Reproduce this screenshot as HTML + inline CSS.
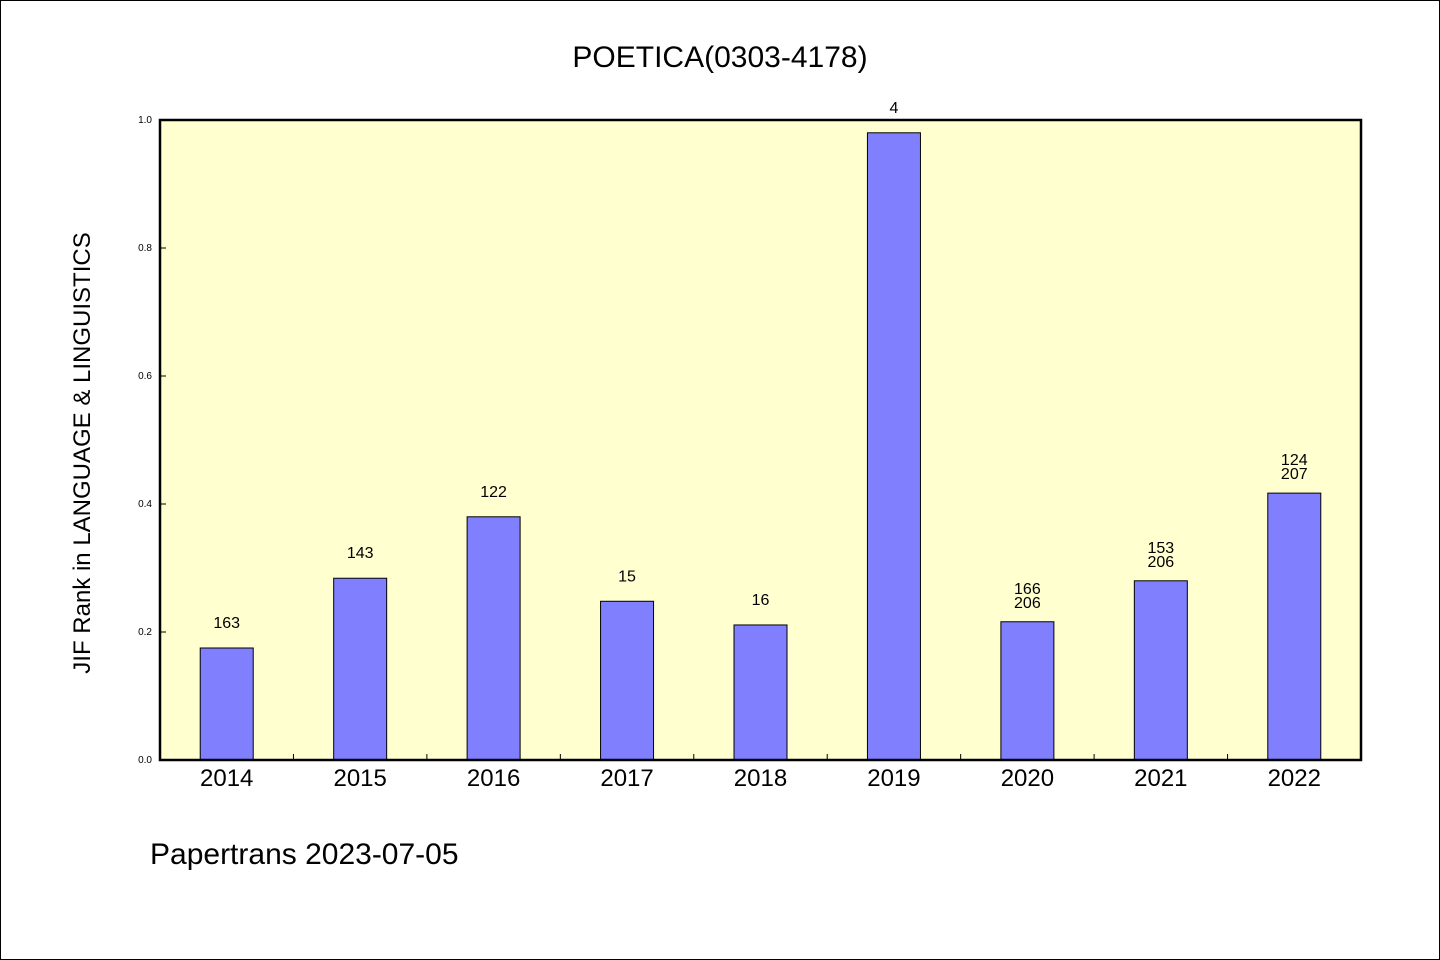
<!DOCTYPE html>
<html><head><meta charset="utf-8"><style>
html,body{margin:0;padding:0;background:#fff;}
svg{display:block;font-family:"WenQuanYi Zen Hei","Liberation Sans",sans-serif;}
</style></head><body>
<svg id="chart" width="1440" height="960" viewBox="0 0 1440 960">
<rect x="0.5" y="0.5" width="1439" height="959" fill="#fff" stroke="#000"/>
<text x="720" y="67" text-anchor="middle" font-size="30">POETICA(0303-4178)</text>
<rect x="160" y="120" width="1201" height="640" fill="#ffffd0"/>
<g id="marks"></g>
<rect x="160" y="120" width="1201" height="640" fill="none" stroke="#000" stroke-width="2.5"/>
<text transform="translate(90,453) rotate(-90)" text-anchor="middle" font-size="24">JIF Rank in LANGUAGE &amp; LINGUISTICS</text>
<text x="150" y="864" font-size="30">Papertrans 2023-07-05</text>
</svg>
<script>
const categories=["2014","2015","2016","2017","2018","2019","2020","2021","2022"];
const values=[0.175,0.284,0.380,0.248,0.211,0.980,0.216,0.280,0.417];
const labels=[["163"],["143"],["122"],["15"],["16"],["4"],["166","206"],["153","206"],["124","207"]];
const yTicks=[0,0.2,0.4,0.6,0.8,1.0];
const tickLabels=["0.0","0.2","0.4","0.6","0.8","1.0"];
const X0=160,X1=1361,Y0=760,Y1=120;
const bw=(X1-X0)/categories.length;
const xc=i=>X0+bw*(i+0.5);
const y=v=>Y0-(Y0-Y1)*v;
const g=document.getElementById('marks');
const NS='http://www.w3.org/2000/svg';
function mk(t,a){const e=document.createElementNS(NS,t);for(const k in a)e.setAttribute(k,a[k]);g.appendChild(e);return e;}
yTicks.forEach((v,i)=>{
 const l=mk('line',{x1:X0,x2:X0+6,y1:y(v),y2:y(v),stroke:'#000'});
 
 
 const t=mk('text',{x:X0-8,y:y(v)+3,'text-anchor':'end','font-size':10});
 t.textContent=tickLabels[i];
 
 
});
categories.forEach((c,i)=>{
 if(i>0){const l=mk('line',{x1:X0+bw*i,x2:X0+bw*i,y1:Y0,y2:Y0-6,stroke:'#000'});
 
 }
 const b=mk('rect',{x:xc(i)-26.5,y:y(values[i]),width:53,height:Y0-y(values[i]),fill:'#8080ff',stroke:'#000','stroke-width':1});
 
 
 const t=mk('text',{x:xc(i),y:786,'text-anchor':'middle','font-size':24});
 t.textContent=c;
 
 
 const ls=labels[i];
 ls.forEach((s,j)=>{
  const yy=ls.length===1?y(values[i])-20:y(values[i])-20+14*j;
  const lt=mk('text',{x:xc(i),y:ls.length===1?yy:yy-(ls.length-1)*14+ (j*0),'text-anchor':'middle','font-size':16});
  lt.setAttribute('y',y(values[i])-20-(ls.length-1-j)*14+(ls.length>1?14:0)*0 + (ls.length>1?6:0));
  lt.textContent=s;
  
  
 });
});
</script>
</body></html>
